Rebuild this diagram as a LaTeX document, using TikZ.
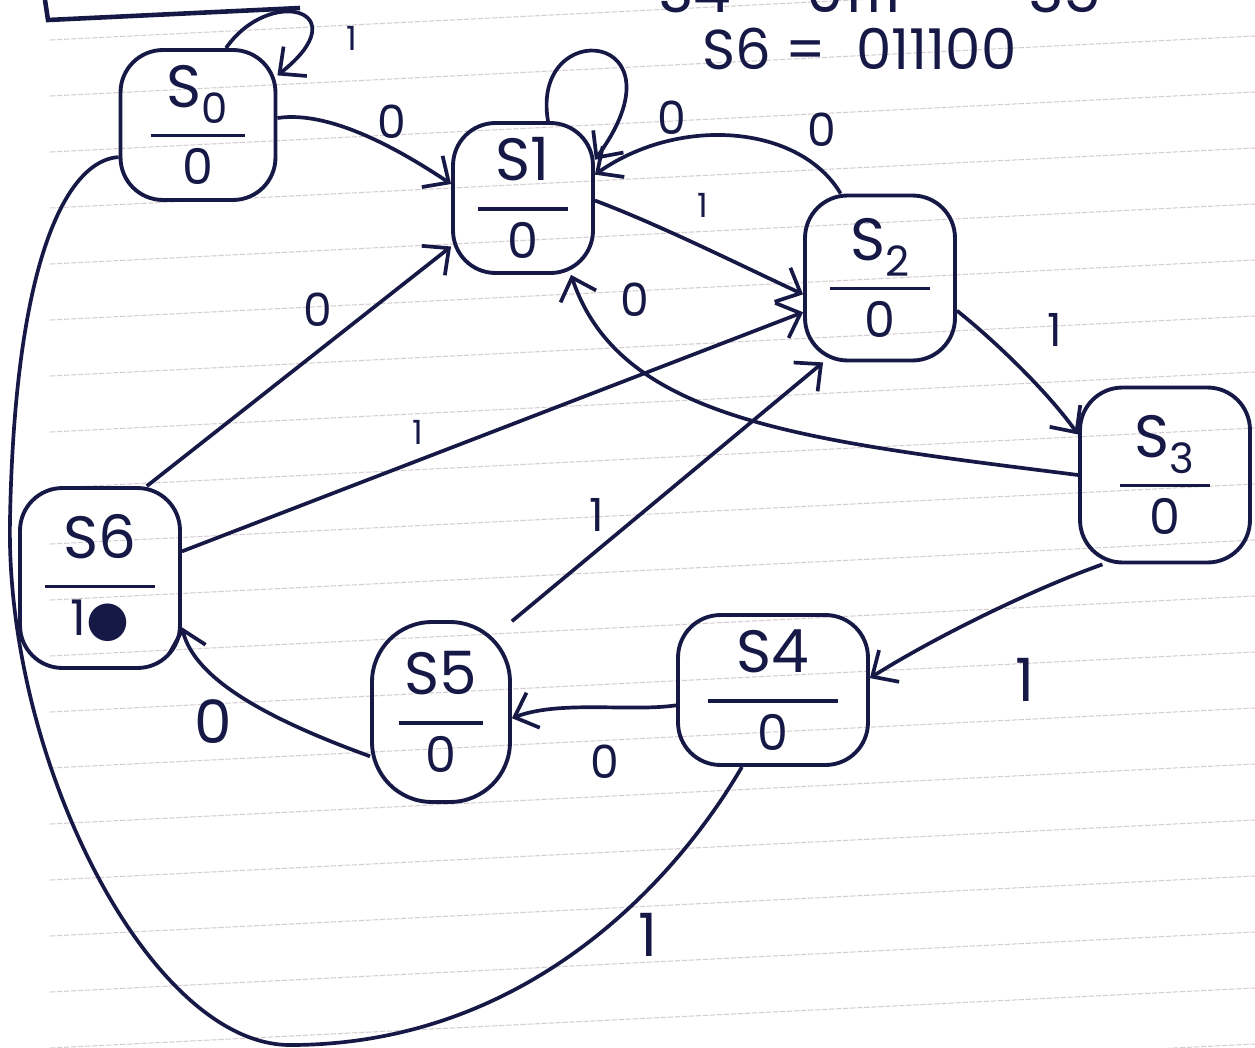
\documentclass[tikz,border=0pt]{standalone}
\usepackage{fontspec}
\setmainfont{Poppins}
\newfontfamily\djv{DejaVu Sans}
\usetikzlibrary{arrows.meta}
\definecolor{ink}{RGB}{22,24,70}
\definecolor{paperline}{RGB}{214,205,210}
\newcommand\stt[3]{#1\\[-19pt]\rule{#3}{2pt}\\[-9pt]{\fontsize{28}{30}\selectfont #2}}
\begin{document}
\begin{tikzpicture}[x=0.02cm,y=-0.02cm,
  every node/.style={text=ink},
  statebox/.style={draw=ink, line width=2.2pt, rounded corners=0.85cm, inner sep=0pt, align=center, font=\fontsize{34}{36}\selectfont},
  edge/.style={draw=ink, line width=2.1pt, -{Straight Barb[length=4mm,width=7.5mm]}},
  plain/.style={draw=ink, line width=2.1pt},
  lbl/.style={font=\fontsize{26}{28}\selectfont, inner sep=1pt},
  slbl/.style={font=\fontsize{19}{20}\selectfont, inner sep=1pt},
  blbl/.style={font=\fontsize{34}{36}\selectfont, inner sep=1pt},
  paper/.style={draw=paperline, line width=0.6pt, dash pattern=on 3pt off 1pt}]
\useasboundingbox (0,0) rectangle (1255,1048);
\clip (0,0) rectangle (1255,1048);
\fill[white] (0,0) rectangle (1255,1048);
% ruled paper
\foreach \i in {0,...,19} \draw[paper] (50,{40+56*\i}) -- (1255,{40+56*\i-60});
% partly cut heading
\draw[plain, line width=2.6pt] (45,0) -- (48,20) -- (300,8);
\node[blbl, anchor=base] (h1) at (780,12) {S4 = 0111};
\node[blbl, anchor=base] (h2) at (1065,12) {S5};
\node[blbl, font=\fontsize{32}{34}\selectfont, anchor=base west] (h3) at (700,70) {S6 =\ \ 011100};
% states
\node[statebox, minimum width=3.1cm, minimum height=3.0cm] (s0) at (198,125) {\stt{S\textsubscript{0}}{0}{1.9cm}};
\node[statebox, minimum width=2.8cm, minimum height=3.0cm] (s1) at (523,198) {\stt{S1}{0}{1.8cm}};
\node[statebox, minimum width=3.0cm, minimum height=3.3cm] (s2) at (880,278) {\stt{S\textsubscript{2}}{0}{2.0cm}};
\node[statebox, minimum width=3.4cm, minimum height=3.5cm] (s3) at (1165,475) {\stt{S\textsubscript{3}}{0}{1.8cm}};
\node[statebox, minimum width=3.8cm, minimum height=3.0cm] (s4) at (773,690) {\stt{S4}{0}{2.6cm}};
\node[statebox, rounded corners=1.2cm, minimum width=2.76cm, minimum height=3.6cm] (s5) at (441,712) {\stt{S5}{0}{1.7cm}};
\node[statebox, minimum width=3.2cm, minimum height=3.6cm] (s6) at (100,578) {\stt{S6}{1{\djv ●}}{2.2cm}};
% transitions
\draw[edge] (s0.70) .. controls (270,-15) and (360,10) .. (s0.32);
\draw[edge] (s0.5) .. controls (330,110) and (400,150) .. (s1.169);
\draw[edge] (s1.72) .. controls (530,15) and (690,30) .. (s1.28);
\draw[edge] (s2.115) .. controls (800,125) and (680,115) .. (s1.18);
\draw[edge] (s1.-2) .. controls (660,225) and (740,265) .. (s2.192);
\draw[edge] (s2.-23) .. controls (1000,345) and (1050,395) .. (s3.155);
\draw[edge] (s3.180) .. controls (800,440) and (620,420) .. (s1.-58);
\draw[edge] (s3.-125) .. controls (1030,590) and (930,640) .. (s4.7);
\draw[edge] (s4.189) .. controls (630,712) and (560,700) .. (s5.-5);
\draw[edge] (s5.212) .. controls (270,720) and (195,680) .. (s6.-31);
\draw[edge] (s5.52) -- (s2.-124);
\draw[edge] (s6.63) -- (s1.-146);
\draw[edge] (s6.18) -- (s2.-156);
\draw[plain] (s4.-112) .. controls (670,890) and (520,1045) .. (290,1045) .. controls (150,1045) and (5,760) .. (10,520) .. controls (15,250) and (70,160) .. (s0.202);
% labels
\node[slbl] (a1) at (352,38) {1};
\node[lbl] (a2) at (392,122) {0};
\node[lbl] (a3) at (672,118) {0};
\node[lbl] (a4) at (822,130) {0};
\node[slbl] (a5) at (703,205) {1};
\node[lbl] (a6) at (1055,330) {1};
\node[lbl] (a7) at (635,300) {0};
\node[lbl] (a8) at (318,310) {0};
\node[slbl] (a9) at (418,432) {1};
\node[lbl] (a10) at (597,515) {1};
\node[blbl] (a11) at (1025,680) {1};
\node[lbl] (a12) at (605,762) {0};
\node[blbl] (a13) at (213,722) {0};
\node[blbl] (a14) at (648,935) {1};
\end{tikzpicture}
\end{document}
